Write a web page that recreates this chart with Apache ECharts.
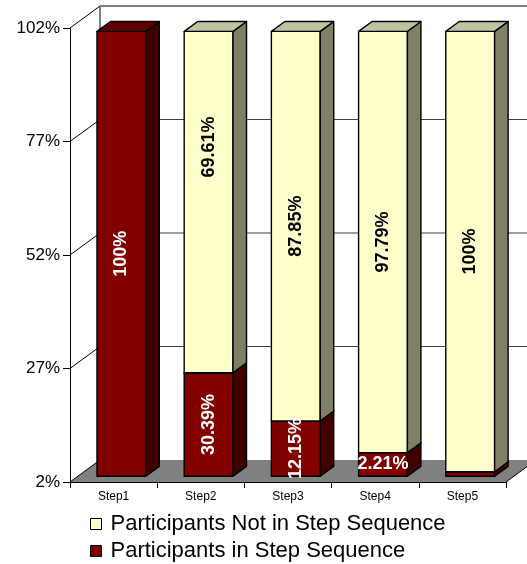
<!DOCTYPE html>
<html>
<head>
<meta charset="utf-8">
<script src="https://cdn.jsdelivr.net/npm/echarts@6/dist/echarts.min.js"></script>
<style>
html,body{margin:0;padding:0;background:#fff}
#main{width:527px;height:564px}
</style>
</head>
<body>
<div id="main"></div>
<script>
// data
var steps=['Step1','Step2','Step3','Step4','Step5'];
var inSeq=[100,24.8,14.2,7.2,3.0];
var notInSeq=[0,75.2,85.8,92.8,97.0];
var inSeqLabels=['100%','30.39%','12.15%','2.21%',''];
var notInSeqLabels=['','69.61%','87.85%','97.79%','100%'];
var yTicks=[2,27,52,77,102];
var yTickLabels=['2%','27%','52%','77%','102%'];

var stackVals=[inSeq,notInSeq];
var stackLabels=[inSeqLabels,notInSeqLabels];
var names=['Participants in Step Sequence','Participants Not in Step Sequence'];
//正面/侧面/顶面颜色
var faces=[
	{front:'#800000',side:'#400000',top:'#600000',text:'#fff'},
	{front:'#FFFFCC',side:'#808066',top:'#C2C2A0',text:'#000'}
];
var DX=30,DY=-22;          // depth of the plot box
var F0=0.26,F1=0.71;       // bar front/back inside the box
var HALF=0.28;             // half bar width / category width
var FONT='"Liberation Sans",Arial,sans-serif';
var labelNudge={'1,1':-55};

function $each(arr,fn){for(var i=0;i<arr.length;i++){fn(i,arr[i]);}}
function extend(a,b){for(var p in b){a[p]=b[p];}return a;}
function line(x1,y1,x2,y2,color,w){
	return {type:'line',shape:{x1:x1,y1:y1,x2:x2,y2:y2},style:{stroke:color,lineWidth:w}};
}

//背景：地板、后墙、网格线
function renderBack(params,api){
	var cs=params.coordSys;
	var x0=cs.x,x1=cs.x+cs.width,yb=cs.y+cs.height;
	var yt=api.coord([0,yTicks[yTicks.length-1]])[1];
	var ch=[];
	ch.push({type:'polygon',shape:{points:[[x0,yb],[x1,yb],[x1+DX,yb+DY],[x0+DX,yb+DY]]},style:{fill:'#808080'}});
	ch.push(line(x0+DX,yt+DY,x0+DX,yb+DY,'#808080',2));
	$each(yTicks,function(k,v){
		var y=api.coord([0,v])[1];
		ch.push(line(x0,y,x0+DX,y+DY,'#000',1));
		if(k==yTicks.length-1){
			ch.push(line(x0+DX,y+DY,x1+DX+20,y+DY,'#808080',2));
		}else if(k>0){
			ch.push(line(x0+DX,y+DY,x1+DX+20,y+DY,'#404040',1));
		}
	});
	ch.push(line(x1,yb,x1+DX,yb+DY,'#000',1));
	return {type:'group',children:ch};
}

//立体柱子
function barRenderer(k){
	return function(params,api){
		var i=api.value(0);
		var base=0;
		for(var j=0;j<k;j++){base+=stackVals[j][i];}
		var top=base+stackVals[k][i];
		var lo=Math.max(base,yTicks[0]);
		if(top<=lo){return null;}
		var cw=api.size([1,0])[0];
		var cx=api.coord([i,0])[0];
		var fx0=cx-cw*HALF+DX*F0,fx1=cx+cw*HALF+DX*F0;
		var yTop=api.coord([i,top])[1]+DY*F0;
		var yBot=api.coord([i,lo])[1]+DY*F0;
		var ddx=DX*(F1-F0),ddy=DY*(F1-F0);
		var c=faces[k];
		var st={stroke:'#000',lineWidth:1.4,lineJoin:'round'};
		var ch=[
			{type:'polygon',shape:{points:[[fx0,yTop],[fx1,yTop],[fx1,yBot],[fx0,yBot]]},style:extend({fill:c.front},st)},
			{type:'polygon',shape:{points:[[fx1,yTop],[fx1+ddx,yTop+ddy],[fx1+ddx,yBot+ddy],[fx1,yBot]]},style:extend({fill:c.side},st)},
			{type:'polygon',shape:{points:[[fx0,yTop],[fx1,yTop],[fx1+ddx,yTop+ddy],[fx0+ddx,yTop+ddy]]},style:extend({fill:c.top},st)}
		];
		var txt=stackLabels[k][i];
		if(txt){
			var h=yBot-yTop;
			var ty=(yTop+yBot)/2+(labelNudge[k+','+i]||0);
			ch.push({type:'text',x:(fx0+fx1)/2,y:ty,rotation:h>30?Math.PI/2:0,z2:100,
				style:{text:txt,fill:c.text,fontSize:18,fontWeight:'bold',fontFamily:FONT,align:'center',verticalAlign:'middle'}});
		}
		return {type:'group',children:ch};
	};
}

var myChart=echarts.init(document.getElementById('main'));
var series=[{
	type:'custom',
	silent:true,
	z:1,
	renderItem:renderBack,
	data:[[0,yTicks[0]]]
}];
$each(stackVals,function(k,vals){
	series.push({
		name:names[k],
		type:'custom',
		z:2,
		itemStyle:{color:faces[k].front,borderColor:'#000',borderWidth:1},
		renderItem:barRenderer(k),
		data:vals.map(function(v,i){return [i,v];})
	});
});

var option={
	animation:false,
	backgroundColor:'#fff',
	grid:{left:70,right:21,top:28,bottom:82},
	legend:{
		orient:'vertical',
		left:90,
		top:513,
		height:56,
		padding:0,
		itemWidth:11,
		itemHeight:11,
		itemGap:5,
		icon:'rect',
		data:[names[1],names[0]],
		itemStyle:{borderColor:'#000',borderWidth:1},
		textStyle:{fontSize:22,lineHeight:22,color:'#000',fontFamily:FONT,padding:[0,0,0,4]}
	},
	xAxis:{
		type:'category',
		data:steps,
		axisLine:{lineStyle:{color:'#000',width:1}},
		axisTick:{show:true,length:6,lineStyle:{color:'#000'}},
		axisLabel:{fontSize:12,color:'#000',fontFamily:FONT,margin:9},
		splitLine:{show:false}
	},
	yAxis:{
		type:'value',
		min:yTicks[0],
		max:yTicks[yTicks.length-1],
		axisLine:{show:true,lineStyle:{color:'#000',width:1}},
		axisTick:{show:true,length:7,customValues:yTicks,lineStyle:{color:'#000'}},
		axisLabel:{customValues:yTicks,fontSize:17,color:'#000',fontFamily:FONT,margin:10,
			formatter:function(v){return yTickLabels[yTicks.indexOf(v)];}},
		splitLine:{show:false}
	},
	series:series
};
myChart.setOption(option);
</script>
</body>
</html>
